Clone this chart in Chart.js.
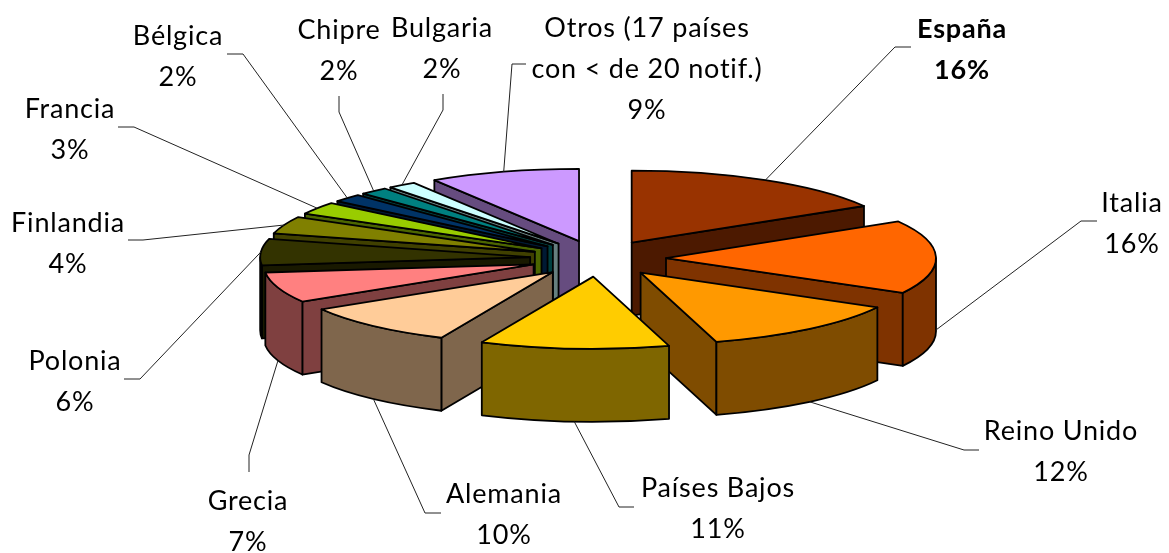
<!DOCTYPE html>
<html>
<head>
<meta charset="utf-8">
<title>Notificaciones por país</title>
<script src="https://cdn.jsdelivr.net/npm/chart.js@4/dist/chart.umd.min.js"></script>
<style>
  html, body { margin: 0; padding: 0; background: #fff; }
  canvas { display: block; }
</style>
</head>
<body>
<canvas id="pie" width="1169" height="553"></canvas>
<script>
const countries = ["España", "Italia", "Reino Unido", "Países Bajos", "Alemania", "Grecia", "Polonia",
  "Finlandia", "Francia", "Bélgica", "Chipre", "Bulgaria", "Otros (17 países|con < de 20 notif.)"];
// shares, they round to the printed percentages
const shares = [16.49, 16.49, 12.49, 11.3, 9.6, 6.83, 5.9, 3.9, 2.8, 1.8, 1.7, 1.7, 9.0];
const topColors = ["#993300", "#FF6600", "#FF9900", "#FFCC00", "#FFCC99", "#FF8080", "#333300",
  "#808000", "#99CC00", "#003366", "#008080", "#CCFFFF", "#CC99FF"];

// label centre x and first line y, then the leader stub and knee
const labelPos = [[962, 29], [1132, 203], [1061, 431], [718, 488], [504, 494], [248, 501], [75, 361],
  [68, 223], [70, 109], [178, 36], [339, 30], [442, 28], [647, 28]];
const leaderPos = [
  [[911, 47], [895, 47]], [[1097, 221], [1081, 221]], [[979, 450], [964, 450]], [[634, 507], [619, 507]],
  [[441, 513], [425, 513]], [[249, 472], [249, 455]], [[124, 379], [140, 379]], [[128, 240], [143, 240]],
  [[118, 127], [134, 127]], [[227, 54], [243, 54]], [[339, 96], [339, 112]], [[443, 94], [443, 110]],
  [[526, 64], [512, 64]]
];

const SQUASH = 0.267;
const DEPTH = 73;
const FONT = "Lato";

function darker(hex) {
  const n = parseInt(hex.slice(1), 16);
  const r = (n >> 16) >> 1, g = ((n >> 8) & 255) >> 1, b = (n & 255) >> 1;
  return `rgb(${r},${g},${b})`;
}

// where a slice sits once it is exploded and flattened
function sliceShape(el) {
  const mid = (el.startAngle + el.endAngle) / 2;
  const off = el.options.offset;
  return {
    x: el.x + Math.cos(mid) * off,
    y: el.y + Math.sin(mid) * off * SQUASH,
    rx: el.outerRadius,
    ry: el.outerRadius * SQUASH,
    a0: el.startAngle,
    a1: el.endAngle,
    mid
  };
}

function fillStroke(ctx, fill) {
  ctx.fillStyle = fill;
  ctx.fill();
  ctx.stroke();
}

function radialWall(ctx, s, a, fill) {
  const px = s.x + Math.cos(a) * s.rx, py = s.y + Math.sin(a) * s.ry;
  ctx.beginPath();
  ctx.moveTo(s.x, s.y);
  ctx.lineTo(px, py);
  ctx.lineTo(px, py + DEPTH);
  ctx.lineTo(s.x, s.y + DEPTH);
  ctx.closePath();
  fillStroke(ctx, fill);
}

function drawSlice(ctx, el) {
  const s = sliceShape(el);
  const side = darker(el.options.backgroundColor);
  ctx.lineWidth = 1.8;
  ctx.strokeStyle = "#000";
  ctx.lineJoin = "round";

  if (Math.cos(s.a0) < 0) radialWall(ctx, s, s.a0, side);
  if (Math.cos(s.a1) > 0) radialWall(ctx, s, s.a1, side);

  // outer wall, only the part that faces the viewer
  const from = Math.max(s.a0, 0), to = Math.min(s.a1, Math.PI);
  if (to > from) {
    ctx.beginPath();
    ctx.ellipse(s.x, s.y, s.rx, s.ry, 0, from, to);
    ctx.ellipse(s.x, s.y + DEPTH, s.rx, s.ry, 0, to, from, true);
    ctx.closePath();
    fillStroke(ctx, side);
  }

  ctx.beginPath();
  ctx.moveTo(s.x, s.y);
  ctx.ellipse(s.x, s.y, s.rx, s.ry, 0, s.a0, s.a1);
  ctx.closePath();
  fillStroke(ctx, el.options.backgroundColor);
}

function drawLeader(ctx, el, pts) {
  const s = sliceShape(el);
  const ax = s.x + Math.cos(s.mid) * s.rx;
  let ay = s.y + Math.sin(s.mid) * s.ry;
  if (Math.sin(s.mid) > -0.05) ay += DEPTH;
  ctx.beginPath();
  ctx.moveTo(pts[0][0], pts[0][1]);
  ctx.lineTo(pts[1][0], pts[1][1]);
  ctx.lineTo(ax, ay);
  ctx.lineWidth = 1;
  ctx.strokeStyle = "#222";
  ctx.stroke();
}

function drawLabel(ctx, i, total) {
  const lines = countries[i].split("|");
  lines.push(Math.round(shares[i] / total * 100) + "%");
  ctx.font = (i === 0 ? "bold " : "") + "27px " + FONT;
  ctx.letterSpacing = "0.8px";
  ctx.fillStyle = "#000";
  ctx.textAlign = "center";
  ctx.textBaseline = "middle";
  lines.forEach((t, n) => ctx.fillText(t, labelPos[i][0], labelPos[i][1] + n * 41));
}

const pie3d = {
  id: "pie3d",
  beforeDatasetDraw(chart, args) {
    const ctx = chart.ctx;
    const arcs = args.meta.data;
    const total = shares.reduce((a, b) => a + b, 0);
    const order = arcs.map((_, i) => i).sort((a, b) =>
      Math.sin((arcs[a].startAngle + arcs[a].endAngle) / 2) - Math.sin((arcs[b].startAngle + arcs[b].endAngle) / 2));
    ctx.save();
    order.forEach(i => drawSlice(ctx, arcs[i]));
    arcs.forEach((el, i) => drawLeader(ctx, el, leaderPos[i]));
    arcs.forEach((el, i) => drawLabel(ctx, i, total));
    ctx.restore();
    return false;
  }
};

new Chart(document.getElementById("pie"), {
  type: "pie",
  data: {
    labels: countries,
    datasets: [{
      data: shares,
      backgroundColor: topColors,
      borderWidth: 0,
      offset: 68,
      hoverOffset: 0
    }]
  },
  options: {
    responsive: false,
    animation: false,
    radius: 270,
    layout: { padding: { left: 27, bottom: 36 } },
    plugins: { legend: { display: false }, tooltip: { enabled: false } }
  },
  plugins: [pie3d]
});
</script>
</body>
</html>
